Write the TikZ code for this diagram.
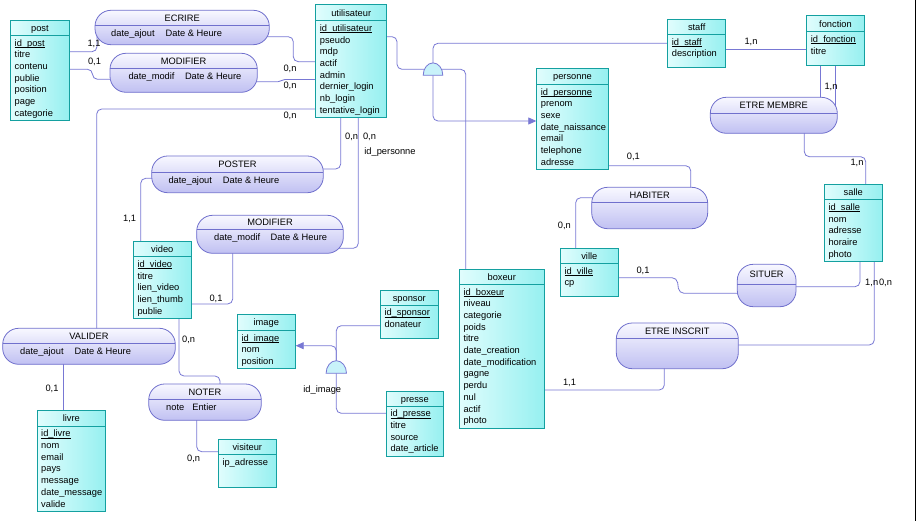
\documentclass[tikz,border=0pt]{standalone}
\usepackage{fontspec}
\setmainfont{Liberation Sans}
\usetikzlibrary{fit,arrows.meta}
\pgfdeclarelayer{bg}
\pgfsetlayers{bg,main}
\definecolor{entB}{RGB}{20,160,160}
\definecolor{entL}{RGB}{224,253,253}
\definecolor{entR}{RGB}{150,240,240}
\definecolor{ascB}{RGB}{112,112,205}
\definecolor{ascT}{RGB}{248,248,255}
\definecolor{ascBt}{RGB}{192,192,242}
\definecolor{lnk}{RGB}{120,120,212}
\definecolor{inhF}{RGB}{200,242,250}
\newcommand\idul[1]{\setbox0\hbox{#1}\rlap{\rule[-1.6pt]{\wd0}{0.6pt}}\box0}
\tikzset{
 entbox/.style={rectangle, draw=entB, line width=0.8pt, left color=entL, right color=entR, inner sep=0pt},
 ascbox/.style={rectangle, draw=ascB, line width=0.8pt, top color=ascT, bottom color=ascBt, inner sep=0pt, rounded corners=16pt},
 txt/.style={inner sep=0pt, font=\fontsize{9.3}{11}\selectfont},
 lnkline/.style={draw=lnk, line width=0.8pt, rounded corners=5pt},
 isatip/.style={-{Triangle[length=8pt,width=7pt]}, lnk},
 isashape/.style={draw=lnk, fill=inhF, line width=0.8pt}
}
\newcommand\ent[8]{%
  \node[entbox, fit={(#2,#3) (#4,#5)}] (#1) {};
  \draw[entB, line width=0.8pt] (#2,#6) -- (#4,#6);
  \node[txt, anchor=base] (#1-t) at ({(#2+#4)/2},{(#3+#6)/2+3.6}) {#7};
  \foreach \a [count=\i from 0] in {#8} \node[txt, anchor=base west] (#1-\i) at ({#2+4},{#6+10.8+\i*11.7}) {\a};
}
\newcommand\asc[9]{%
  \node[ascbox, fit={(#2,#3) (#4,#5)}] (#1) {};
  \draw[ascB, line width=0.8pt] (#2,#6) -- (#4,#6);
  \node[txt, anchor=base] (#1-t) at ({(#2+#4)/2},{(#3+#6)/2+3.6}) {#7};
  \if\relax\detokenize{#9}\relax\else
  \node[txt, anchor=base west] (#1-a) at ({#8},{#6+11.2}) {#9};\fi
}
\begin{document}
\begin{tikzpicture}[x=1pt,y=-1pt]
\begin{pgfonlayer}{bg}
\fill[white] (0,0) rectangle (916,521);
\end{pgfonlayer}
\useasboundingbox (0,0) rectangle (916,521);

% entities
\ent{post}{10.5}{20.7}{69.3}{120.7}{35.3}{post}{\idul{id\_post},titre,contenu,publie,position,page,categorie}
\ent{util}{315.7}{4.7}{386.7}{117.3}{20.7}{utilisateur}{\idul{id\_utilisateur},pseudo,mdp,actif,admin,dernier\_login,nb\_login,tentative\_login}
\ent{personne}{536.7}{68.3}{608.3}{169.3}{84.3}{personne}{\idul{id\_personne},prenom,sexe,date\_naissance,email,telephone,adresse}
\ent{staff}{667.7}{19.3}{725.7}{67.3}{34.3}{staff}{\idul{id\_staff},description}
\ent{fonction}{806.7}{15.3}{864.3}{65.3}{31.7}{fonction}{\idul{id\_fonction},titre}
\ent{salle}{824.3}{184.3}{882.3}{261.3}{199.7}{salle}{\idul{id\_salle},nom,adresse,horaire,photo}
\ent{ville}{560.3}{248.3}{618.3}{296.3}{263.3}{ville}{\idul{id\_ville},cp}
\ent{boxeur}{459.3}{269.3}{544.3}{428.3}{284.3}{boxeur}{\idul{id\_boxeur},niveau,categorie,poids,titre,date\_creation,date\_modification,gagne,perdu,nul,actif,photo}
\ent{sponsor}{380.3}{290.3}{438.3}{338.3}{305}{sponsor}{\idul{id\_sponsor},donateur}
\ent{presse}{386.3}{391.3}{443.3}{456.3}{406}{presse}{\idul{id\_presse},titre,source,date\_article}
\ent{image}{237.3}{314.3}{295.3}{368.3}{330.3}{image}{\idul{id\_image},nom,position}
\ent{video}{133.3}{241.3}{191.3}{318.3}{256.7}{video}{\idul{id\_video},titre,lien\_video,lien\_thumb,publie}
\ent{livre}{37}{410.3}{105.7}{511.3}{426}{livre}{\idul{id\_livre},nom,email,pays,message,date\_message,valide}
\ent{visiteur}{218.3}{439.3}{276.3}{487.3}{454.3}{visiteur}{ip\_adresse}

% associations
\asc{ecrire}{95}{10.3}{269.3}{44.7}{25.3}{ECRIRE}{111}{date\_ajout\hspace{11pt}Date \& Heure}
\asc{modA}{110}{53.3}{257.3}{92.3}{68.3}{MODIFIER}{128.3}{date\_modif\hspace{10.5pt}Date \& Heure}
\asc{poster}{151.7}{156}{323.3}{192.7}{172.7}{POSTER}{168.3}{date\_ajout\hspace{11pt}Date \& Heure}
\asc{modB}{196.7}{215.3}{343.3}{253.3}{229.3}{MODIFIER}{214}{date\_modif\hspace{10.5pt}Date \& Heure}
\asc{valider}{2.7}{328.3}{175.3}{364.3}{343.7}{VALIDER}{20}{date\_ajout\hspace{11pt}Date \& Heure}
\asc{noter}{148.7}{384}{261.3}{420.3}{399}{NOTER}{166}{note\hspace{8pt}Entier}
\asc{membre}{710.3}{97.3}{837.3}{133.3}{113.3}{ETRE MEMBRE}{0}{}
\asc{habiter}{591.7}{187.3}{707.7}{228.7}{202.7}{HABITER}{0}{}
\asc{situer}{737.3}{264.3}{796}{306.7}{284}{SITUER}{0}{}
\asc{inscrit}{616.3}{323}{738.3}{368.7}{338.3}{ETRE INSCRIT}{0}{}

% inheritance symbols
\coordinate (inhA) at (433,75.3);
\coordinate (inhB) at (336.3,373.3);
\filldraw[isashape] ([xshift=-9.8pt]inhA) arc[start angle=180, end angle=0, x radius=9.8pt, y radius=12.4pt] -- cycle;
\filldraw[isashape] ([xshift=-10.2pt]inhB) arc[start angle=180, end angle=0, x radius=10.2pt, y radius=12.6pt] -- cycle;

% connectors
\begin{pgfonlayer}{bg}
\draw[lnkline] (post.center |- 0,51.7) -- (97,51.7) -- (97,0 |- ecrire.center);
\draw[lnkline] (ecrire.center |- 0,36.7) -- (293.3,36.7) -- (293.3,61.7) -- (util.center |- 0,61.7);
\draw[lnkline] (post.center |- 0,69.3) -- (92.5,69.3) -- (92.5,79.3) -- (modA.center |- 0,79.3);
\draw[lnkline, rounded corners=2pt] (modA.center |- 0,81.7) -- (280,81.7) -- (283,79.5) -- (util.center |- 0,79.5);
\draw[lnkline] (util.center |- 0,109) -- (96.7,109) -- (96.7,0 |- valider.center);
\draw[lnkline] (63.3,0 |- valider.center) -- (63.3,0 |- livre.center);
\draw[lnkline] (340.7,0 |- util.center) -- (340.7,169) -- (poster.center |- 0,169);
\draw[lnkline] (poster.center |- 0,178.3) -- (140.7,178.3) -- (140.7,0 |- video.center);
\draw[lnkline] (358.3,0 |- util.center) -- (358.3,248.3) -- (modB.center |- 0,248.3);
\draw[lnkline] (232.7,0 |- modB.center) -- (232.7,304) -- (video.center |- 0,304);
\draw[lnkline] (179,0 |- video.center) -- (179,376) -- (220,376) -- (220,0 |- noter.center);
\draw[lnkline] (196.7,0 |- noter.center) -- (196.7,451.7) -- (visiteur.center |- 0,451.7);
\draw[lnkline] (staff.center |- 0,49.7) -- (fonction.center |- 0,49.7);
\draw[lnkline] (820.3,0 |- fonction.center) -- (820.3,0 |- membre.center);
\draw[lnkline] (835.7,0 |- fonction.center) -- (835.7,0 |- membre.center);
\draw[lnkline] (804.3,0 |- membre.center) -- (804.3,156.7) -- (865.7,156.7) -- (865.7,0 |- salle.center);
\draw[lnkline] (personne.center |- 0,165.7) -- (690.7,165.7) -- (690.7,0 |- habiter.center);
\draw[lnkline] (habiter.center |- 0,197.7) -- (575.7,197.7) -- (575.7,0 |- ville.center);
\draw[lnkline] (ville.center |- 0,277.7) -- (677,277.7) -- (679,293.3) -- (situer.center |- 0,293.3);
\draw[lnkline] (situer.center |- 0,286.7) -- (860,286.7) -- (860,0 |- salle.center);
\draw[lnkline] (inscrit.center |- 0,345) -- (874.3,345) -- (874.3,0 |- salle.center);
\draw[lnkline] (664.3,0 |- inscrit.center) -- (664.3,390) -- (boxeur.center |- 0,390);
% inheritance links
\draw[lnkline] (util.center |- 0,36.7) -- (397,36.7) -- (397,69.3) -- (inhA |- 0,69.3);
\draw[lnkline] (inhA |- 0,69.3) -- (465.7,69.3) -- (465.7,0 |- boxeur.center);
\draw[lnkline] (inhA |- 0,70) -- (inhA |- 0,43.3) -- (staff.center |- 0,43.3);
\draw[lnkline, isatip] (inhA) -- (inhA |- 0,121) -- (personne.west |- 0,121);
\draw[lnkline, isatip] (inhB) -- (inhB |- 0,345.7) -- (image.east |- 0,345.7);
\draw[lnkline] (sponsor.center |- 0,325.7) -- (inhB |- 0,325.7) -- (inhB |- 0,366);
\draw[lnkline] (presse.center |- 0,413.3) -- (inhB |- 0,413.3) -- (inhB);
\end{pgfonlayer}

% cardinalities and role labels
\node[txt] (c1) at (94,43.5) {1,1};
\node[txt] (c2) at (94.5,61.7) {0,1};
\node[txt] (c3) at (290,69.3) {0,n};
\node[txt] (c4) at (290,86) {0,n};
\node[txt] (c5) at (290,115.7) {0,n};
\node[txt] (c6) at (351.7,137.3) {0,n};
\node[txt] (c7) at (369.5,137.3) {0,n};
\node[txt] (r1) at (390,152) {id\_personne};
\node[txt] (c8) at (129.7,219) {1,1};
\node[txt] (c9) at (216,299) {0,1};
\node[txt] (c10) at (188.7,340) {0,n};
\node[txt] (c11) at (52,389.3) {0,1};
\node[txt] (c12) at (193.7,459) {0,n};
\node[txt] (c13) at (751,42) {1,n};
\node[txt] (c14) at (831,87.3) {1,n};
\node[txt] (c15) at (857,162.7) {1,n};
\node[txt] (c16) at (633.3,157.3) {0,1};
\node[txt] (c17) at (564.3,226) {0,n};
\node[txt] (c18) at (643,270.7) {0,1};
\node[txt] (c19) at (871.7,282.7) {1,n};
\node[txt] (c20) at (885.5,282.7) {0,n};
\node[txt] (c21) at (569.5,382.7) {1,1};
\node[txt] (r2) at (322.3,390) {id\_image};

% window edge
\draw[black, line width=1.4pt] (915.3,0) -- (915.3,521);
\end{tikzpicture}
\end{document}
